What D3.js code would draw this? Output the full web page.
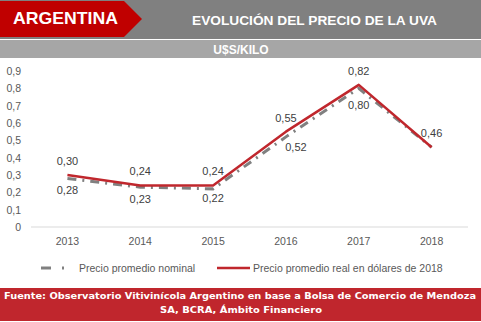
<!DOCTYPE html>
<html>
<head>
<meta charset="utf-8">
<script src="https://cdn.jsdelivr.net/npm/d3@7"></script>
<style>
  body { margin: 0; background: #fff; }
  text { font-family: 'Liberation Sans', Arial, sans-serif; }
</style>
</head>
<body>
<div id="chart"></div>
<script>
var years = ['2013', '2014', '2015', '2016', '2017', '2018'];
var nominal = [0.28, 0.23, 0.22, 0.52, 0.80, 0.46];
var real = [0.30, 0.24, 0.24, 0.55, 0.82, 0.46];
var yTicks = [0, 0.1, 0.2, 0.3, 0.4, 0.5, 0.6, 0.7, 0.8, 0.9];

var W = 481, H = 322;
var svg = d3.select('#chart').append('svg')
    .attr('width', W)
    .attr('height', H);

// header
svg.append('rect').attr('x', 0).attr('y', 0).attr('width', W).attr('height', 39).attr('fill', '#808080');
svg.append('path')
    .attr('d', 'M0,1 L124,1 L142,19 L124,37 L0,37 Z')
    .attr('fill', '#c00000');
svg.append('text').attr('x', 13).attr('y', 24)
    .attr('fill', '#fff').style('font-weight', 'bold').style('font-size', '17px')
    .attr('textLength', 105).attr('lengthAdjust', 'spacingAndGlyphs')
    .text('ARGENTINA');
svg.append('text').attr('x', 192).attr('y', 25)
    .attr('fill', '#fff').style('font-weight', 'bold').style('font-size', '13.5px')
    .attr('textLength', 245).attr('lengthAdjust', 'spacingAndGlyphs')
    .text('EVOLUCIÓN DEL PRECIO DE LA UVA');
svg.append('rect').attr('x', 0).attr('y', 40).attr('width', W).attr('height', 18).attr('fill', '#a6a6a6');
svg.append('text').attr('x', 241).attr('y', 54).attr('text-anchor', 'middle')
    .attr('fill', '#fff').style('font-weight', 'bold').style('font-size', '12px')
    .text('U$S/KILO');

// chart
var x = d3.scaleBand().domain(years).range([31, 468]);
var y = d3.scaleLinear().domain([0, 0.9]).range([227, 71]);
var fmt = function (v) { return d3.format('.2f')(v).replace('.', ','); };

svg.append('line')
    .attr('x1', 31).attr('x2', 468).attr('y1', y(0)).attr('y2', y(0))
    .attr('stroke', '#d9d9d9').attr('stroke-width', 1);

svg.selectAll('.ytick').data(yTicks).enter().append('text')
    .attr('class', 'ytick')
    .attr('x', 21).attr('y', d => y(d) + 4)
    .attr('text-anchor', 'end')
    .attr('fill', '#595959').style('font-size', '10.5px')
    .text(d => d === 0 ? '0' : d3.format('.1f')(d).replace('.', ','));

svg.selectAll('.xtick').data(years).enter().append('text')
    .attr('class', 'xtick')
    .attr('x', d => x(d) + x.bandwidth() / 2).attr('y', 245)
    .attr('text-anchor', 'middle')
    .attr('fill', '#595959').style('font-size', '10.5px')
    .text(d => d);

var line = d3.line()
    .x((d, i) => x(years[i]) + x.bandwidth() / 2)
    .y(d => y(d));

svg.append('path').datum(nominal)
    .attr('d', line).attr('fill', 'none')
    .attr('stroke', '#808080').attr('stroke-width', 3)
    .attr('stroke-dasharray', '9,6,2,6');

svg.append('path').datum(real)
    .attr('d', line).attr('fill', 'none')
    .attr('stroke', '#c0272d').attr('stroke-width', 2.5)
    .attr('stroke-linejoin', 'round');

svg.selectAll('.lblReal').data(real).enter().append('text')
    .attr('class', 'lblReal')
    .attr('x', (d, i) => x(years[i]) + x.bandwidth() / 2)
    .attr('y', d => y(d) - 10)
    .attr('text-anchor', 'middle')
    .attr('fill', '#404040').style('font-size', '11px')
    .text(d => fmt(d));

// nominal labels sit below the line; a few nudged like in the original
var nomDx = [0, 0, 0, 10, 0, 0];
var nomDy = [16, 16, 13, 14, 21, 16];
svg.selectAll('.lblNom').data(nominal).enter().append('text')
    .filter((d, i) => i < nominal.length - 1)
    .attr('class', 'lblNom')
    .attr('x', (d, i) => x(years[i]) + x.bandwidth() / 2 + nomDx[i])
    .attr('y', (d, i) => y(d) + nomDy[i])
    .attr('text-anchor', 'middle')
    .attr('fill', '#404040').style('font-size', '11px')
    .text(d => fmt(d));

// legend
svg.append('line').attr('x1', 41).attr('x2', 51).attr('y1', 268).attr('y2', 268)
    .attr('stroke', '#808080').attr('stroke-width', 3);
svg.append('line').attr('x1', 62).attr('x2', 64).attr('y1', 268).attr('y2', 268)
    .attr('stroke', '#808080').attr('stroke-width', 3);
svg.append('text').attr('x', 79).attr('y', 272)
    .attr('fill', '#595959').style('font-size', '10.5px')
    .text('Precio promedio nominal');
svg.append('line').attr('x1', 217).attr('x2', 250).attr('y1', 268).attr('y2', 268)
    .attr('stroke', '#c0272d').attr('stroke-width', 2.5);
svg.append('text').attr('x', 253).attr('y', 272)
    .attr('fill', '#595959').style('font-size', '10.5px')
    .text('Precio promedio real en dólares de 2018');

// footer
svg.append('rect').attr('x', 0).attr('y', 288).attr('width', W).attr('height', 33).attr('fill', '#c0262d');
svg.append('text').attr('x', 240).attr('y', 299).attr('text-anchor', 'middle')
    .attr('fill', '#fff').style('font-weight', 'bold').style('font-size', '9.5px')
    .style('font-family', 'DejaVu Sans')
    .attr('textLength', 472).attr('lengthAdjust', 'spacingAndGlyphs')
    .text('Fuente: Observatorio Vitivinícola Argentino en base a Bolsa de Comercio de Mendoza');
svg.append('text').attr('x', 241).attr('y', 313).attr('text-anchor', 'middle')
    .attr('fill', '#fff').style('font-weight', 'bold').style('font-size', '9.5px')
    .style('font-family', 'DejaVu Sans')
    .attr('textLength', 162).attr('lengthAdjust', 'spacingAndGlyphs')
    .text('SA, BCRA, Ámbito Financiero');
</script>
</body>
</html>
